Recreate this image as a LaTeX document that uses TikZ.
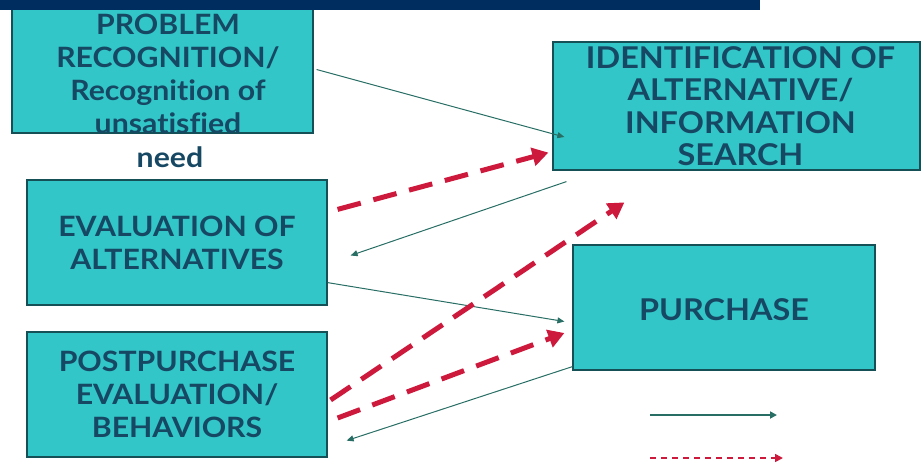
\documentclass[tikz,border=0pt]{standalone}
\usepackage{fontspec}
\setmainfont{Lato}[FakeStretch=1.08, Ligatures=NoCommon]
\usetikzlibrary{arrows.meta}
\definecolor{boxfill}{RGB}{50,198,200}
\definecolor{boxline}{RGB}{20,80,85}
\definecolor{boxtext}{RGB}{22,72,100}
\definecolor{navy}{RGB}{0,45,95}
\definecolor{thinarr}{RGB}{40,110,100}
\definecolor{redarr}{RGB}{205,25,60}
\tikzset{
  stagebox/.style={draw=boxline, line width=1.2pt, fill=boxfill, rectangle, inner sep=0pt},
  stagetext/.style={text=boxtext, font=\fontsize{28}{33}\selectfont\bfseries, align=center, inner sep=0pt},
  thin/.style={draw=thinarr, line width=1pt, -{Triangle[length=7pt,width=6pt]}},
  feedback/.style={draw=redarr, line width=5pt, dash pattern=on 24pt off 13pt, -{Triangle[length=16pt,width=18pt]}},
  legthin/.style={draw=thinarr, line width=1.8pt, -{Triangle[length=7pt,width=7pt]}},
  legred/.style={draw=redarr, line width=1.6pt, dash pattern=on 6pt off 5pt, -{Triangle[length=8pt,width=8pt]}}
}
\begin{document}
\begin{tikzpicture}[x=1pt,y=-1pt]
\useasboundingbox (0,0) rectangle (921,464);
% boxes
\node[stagebox, minimum width=301pt, minimum height=125pt] (prob) at (162.5,70.5) {};
\node[stagebox, minimum width=367pt, minimum height=128pt] (ident) at (736.5,106) {};
\node[stagebox, minimum width=300pt, minimum height=125pt] (eval) at (177,242.5) {};
\node[stagebox, minimum width=300pt, minimum height=125pt] (post) at (177,394.5) {};
\node[stagebox, minimum width=302pt, minimum height=125pt] (purch) at (724,307.5) {};
% texts
\begin{scope}
\clip (prob.south west) rectangle (prob.north east);
\node[stagetext] (probtext) at (168,74) {PROBLEM\\RECOGNITION/\\Recognition of\\unsatisfied};
\end{scope}
\node[stagetext, anchor=base] (need) at (170,167) {need};
\node[stagetext, font=\fontsize{30}{32.5}\selectfont\bfseries] (identtext) at ([xshift=4pt]ident.center) {IDENTIFICATION OF\\ALTERNATIVE/\\INFORMATION\\SEARCH};
\node[stagetext] (evaltext) at (eval) {EVALUATION OF\\ALTERNATIVES};
\node[stagetext] (posttext) at (post) {POSTPURCHASE\\EVALUATION/\\BEHAVIORS};
\node[stagetext, font=\fontsize{30}{33}\selectfont\bfseries] (purchtext) at ([yshift=-2pt]purch.center) {PURCHASE};
% thin arrows
\draw[thin] ([shift={(3,-1)}]prob.east) -- ([shift={(12,31)}]ident.west);
\draw[thin] ([shift={(14,11)}]ident.south west) -- ([shift={(23,13)}]eval.east);
\draw[thin] ([shift={(0,-23)}]eval.south east) -- ([shift={(-8,14)}]purch.west);
\draw[thin] ([shift={(0,-4)}]purch.south west) -- ([shift={(19,-17)}]post.south east);
% red dashed arrows
\draw[feedback] ([shift={(10,30)}]eval.north east) -- ([shift={(-4,-18)}]ident.south west);
\draw[feedback] ([shift={(3,5.5)}]post.east) -- ([shift={(52,-42)}]purch.north west);
\draw[feedback] ([shift={(10,23.5)}]post.east) -- ([shift={(-8,25.5)}]purch.west);
% legend
\coordinate (l1a) at (650,415);
\coordinate (l1b) at (777,415);
\coordinate (l2a) at (650,458);
\coordinate (l2b) at (783,458);
\draw[legthin] (l1a) -- (l1b);
\draw[legred] (l2a) -- (l2b);
% top bar
\fill[navy] (0,0) rectangle (760,10);
\end{tikzpicture}
\end{document}
